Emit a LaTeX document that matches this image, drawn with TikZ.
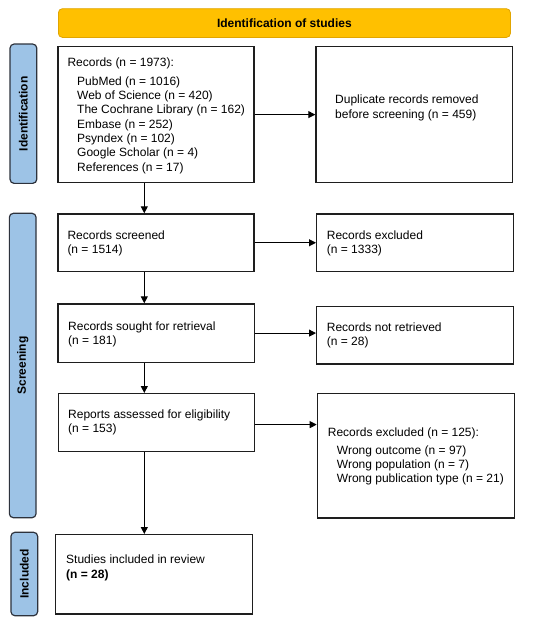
\documentclass[tikz,border=0pt]{standalone}
\usepackage{fontspec}
\setmainfont{Liberation Sans}
\usetikzlibrary{arrows.meta}
\definecolor{titlefill}{RGB}{255,192,0}
\definecolor{titledraw}{RGB}{225,165,0}
\definecolor{sidefill}{RGB}{157,195,230}
\definecolor{sidedraw}{RGB}{45,50,60}
\definecolor{boxdraw}{RGB}{30,30,30}
\begin{document}
\begin{tikzpicture}[x=1pt,y=-1pt,
  box/.style={draw=boxdraw,line width=1.2pt,anchor=north west,inner sep=0pt},
  txt/.style={font=\fontsize{12}{14.3}\selectfont,anchor=base west,inner sep=0pt},
  side/.style={draw=sidedraw,fill=sidefill,line width=1.2pt,rounded corners=4pt,rotate=90,
    font=\fontsize{12}{14}\selectfont\bfseries,inner sep=0pt,minimum height=26.7pt},
  arr/.style={line width=1pt,draw=black,-{Triangle[length=7pt,width=7pt]}}]
\useasboundingbox (0,0) rectangle (550,624);
% title
\node[draw=titledraw,fill=titlefill,line width=0.8pt,rounded corners=4pt,anchor=north west,
  minimum width=452pt,minimum height=28.7pt,inner sep=0pt,font=\fontsize{12}{14}\selectfont\bfseries]
  (title) at (58,8.3) {Identification of studies};
% side bars
\node[side,minimum width=139.3pt] (sIdent) at (23.4,113.7) {Identification};
\node[side,minimum width=304.4pt] (sScreen) at (22.7,365.5) {Screening};
\node[side,minimum width=83.4pt] (sIncl) at (24.3,574) {Included};
% boxes
\node[box,minimum width=196pt,minimum height=136pt] (b1) at (57.3,46) {};
\node[box,minimum width=196.7pt,minimum height=136pt] (d1) at (315.3,46) {};
\node[box,minimum width=196pt,minimum height=57.7pt] (b2) at (57.3,213.3) {};
\node[box,minimum width=196.7pt,minimum height=57.7pt] (d2) at (316,213.3) {};
\node[box,minimum width=196.7pt,minimum height=58.4pt] (b3) at (57.3,303.3) {};
\node[box,minimum width=196.7pt,minimum height=57.3pt] (d3) at (316,306) {};
\node[box,minimum width=196.3pt,minimum height=58pt] (b4) at (57.7,393) {};
\node[box,minimum width=197.3pt,minimum height=124.7pt] (d4) at (316.7,392.7) {};
\node[box,minimum width=196.7pt,minimum height=79.4pt] (b5) at (55,534) {};
% texts box 1
\node[txt] (t1) at (67.3,66.5) {Records (n = 1973):};
\foreach \lab [count=\i from 0] in {PubMed (n = 1016),Web of Science (n = 420),The Cochrane Library (n = 162),Embase (n = 252),Psyndex (n = 102),Google Scholar (n = 4),References (n = 17)}
  \node[txt] (t1l\i) at (77,85.2+14.3*\i) {\lab};
% duplicate
\node[txt] (td1) at (335,103.8) {Duplicate records removed};
\node[txt] (td2) at (335,118.4) {before screening (n = 459)};
% screened
\node[txt] (t2a) at (67.3,239.2) {Records screened};
\node[txt] (t2b) at (67.3,253.5) {(n = 1514)};
\node[txt] (e2a) at (326.7,239.2) {Records excluded};
\node[txt] (e2b) at (326.7,253.5) {(n = 1333)};
% sought
\node[txt] (t3a) at (68,330.2) {Records sought for retrieval};
\node[txt] (t3b) at (68,344.5) {(n = 181)};
\node[txt] (e3a) at (326.7,331.5) {Records not retrieved};
\node[txt] (e3b) at (326.7,345.8) {(n = 28)};
% reports
\node[txt] (t4a) at (68,418.5) {Reports assessed for eligibility};
\node[txt] (t4b) at (68,432.8) {(n = 153)};
\node[txt] (e4a) at (327.7,436) {Records excluded (n = 125):};
\node[txt] (e4b) at (336.7,454.2) {Wrong outcome (n = 97)};
\node[txt] (e4c) at (336.7,468.5) {Wrong population (n = 7)};
\node[txt] (e4d) at (336.7,482.8) {Wrong publication type (n = 21)};
% included
\node[txt] (t5a) at (66,563.5) {Studies included in review};
\node[txt,font=\fontsize{12}{14.3}\selectfont\bfseries] (t5b) at (66,578) {(n = 28)};
% horizontal arrows
\draw[arr] (b1.east) -- (b1.east -| d1.west);
\draw[arr] (b2.east) -- (b2.east -| d2.west);
\draw[arr] (b3.east) -- (b3.east -| d3.west);
\draw[arr] ([yshift=-2pt]b4.east) -- ([yshift=-2pt]b4.east -| d4.west);
% vertical arrows
\draw[arr] ([xshift=87pt]b1.south west) -- ([xshift=87pt]b1.south west |- b2.north);
\draw[arr] ([xshift=87pt]b2.south west) -- ([xshift=87pt]b2.south west |- b3.north);
\draw[arr] ([xshift=87pt]b3.south west) -- ([xshift=87pt]b3.south west |- b4.north);
\draw[arr] ([xshift=86.6pt]b4.south west) -- ([xshift=86.6pt]b4.south west |- b5.north);
\end{tikzpicture}
\end{document}
